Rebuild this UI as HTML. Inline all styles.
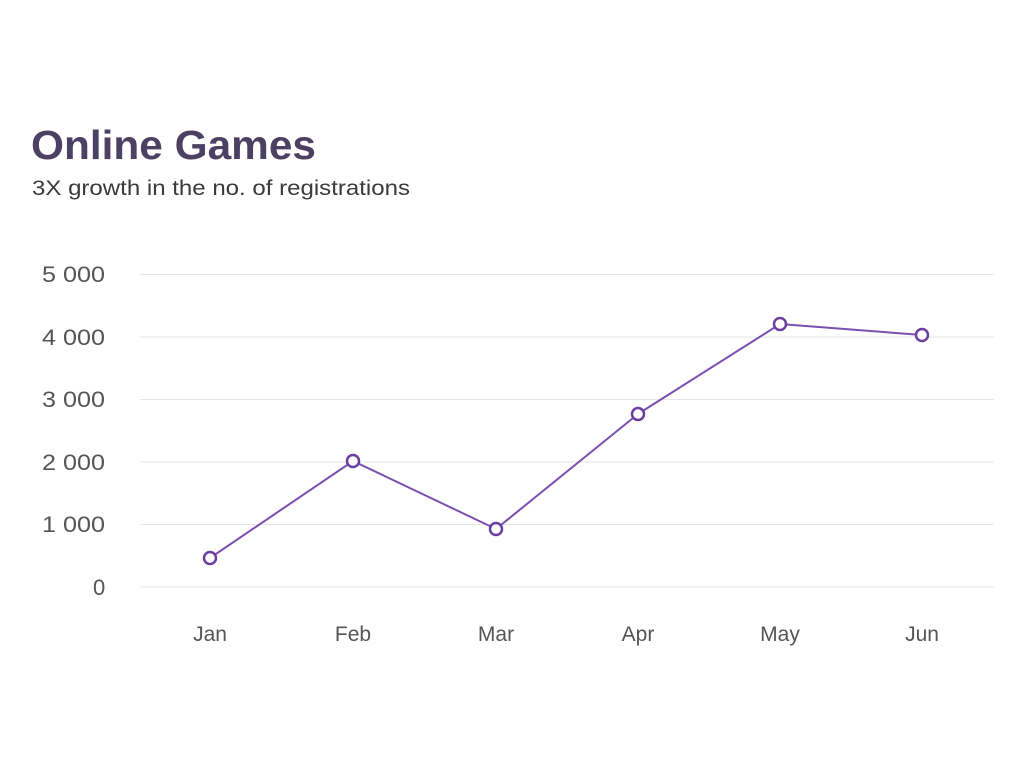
<!DOCTYPE html>
<html><head><meta charset="utf-8"><style>
html,body{margin:0;padding:0;background:#fff;}
svg{display:block;font-family:"Liberation Sans",sans-serif;}
</style></head><body>
<svg width="1024" height="768" viewBox="0 0 1024 768">
<rect width="1024" height="768" fill="#fff"/>
<text x="31" y="159" font-size="41" font-weight="bold" fill="#4a4163" textLength="285" lengthAdjust="spacingAndGlyphs">Online Games</text>
<text x="32" y="195" font-size="21" fill="#3a3a3a" textLength="378" lengthAdjust="spacingAndGlyphs">3X growth in the no. of registrations</text>
<g stroke="#e6e6e6" stroke-width="1">
<line x1="140" x2="994" y1="274.5" y2="274.5"/>
<line x1="140" x2="994" y1="337" y2="337"/>
<line x1="140" x2="994" y1="399.5" y2="399.5"/>
<line x1="140" x2="994" y1="462" y2="462"/>
<line x1="140" x2="994" y1="524.5" y2="524.5"/>
<line x1="140" x2="994" y1="587" y2="587"/>
</g>
<g font-size="22" fill="#555">
<text x="42" y="282" textLength="63" lengthAdjust="spacingAndGlyphs">5 000</text>
<text x="42" y="345" textLength="63" lengthAdjust="spacingAndGlyphs">4 000</text>
<text x="42" y="407" textLength="63" lengthAdjust="spacingAndGlyphs">3 000</text>
<text x="42" y="470" textLength="63" lengthAdjust="spacingAndGlyphs">2 000</text>
<text x="42" y="532" textLength="63" lengthAdjust="spacingAndGlyphs">1 000</text>
<text x="93" y="595">0</text>
</g>
<g font-size="21" fill="#555" text-anchor="middle">
<text x="210" y="641">Jan</text>
<text x="353" y="641">Feb</text>
<text x="496" y="641">Mar</text>
<text x="638" y="641">Apr</text>
<text x="780" y="641">May</text>
<text x="922" y="641">Jun</text>
</g>
<polyline points="210,558 353,461 496,529 638,414 780,324 922,335" fill="none" stroke="#7a4fb0" stroke-width="2"/>
<g fill="#fff" stroke="#6b3fa0" stroke-width="2.5">
<circle cx="210" cy="558" r="6"/>
<circle cx="353" cy="461" r="6"/>
<circle cx="496" cy="529" r="6"/>
<circle cx="638" cy="414" r="6"/>
<circle cx="780" cy="324" r="6"/>
<circle cx="922" cy="335" r="6"/>
</g>
</svg>
</body></html>
